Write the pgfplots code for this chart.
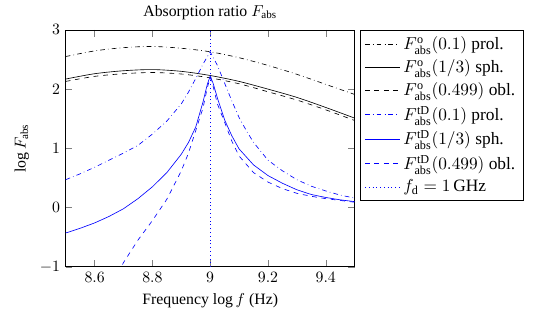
\documentclass[border=0pt]{standalone}
\usepackage{fontspec}
\setmainfont{Liberation Serif}
\usepackage{pgfplots}
\pgfplotsset{compat=1.18}
\pgfplotsset{
  blueimg/.style={legend image code/.code={%
    \draw[black, line width=0.01pt, opacity=0.01] (0cm,0cm) -- (0.01cm,0cm);
    \draw[blue, ##1] (0cm,0cm) -- (0.6cm,0cm);}},
}
\begin{document}
\begin{tikzpicture}
\begin{axis}[
  scale only axis,
  width=183pt, height=150pt,
  xmin=8.5, xmax=9.5, ymin=-1, ymax=3,
  xtick={8.6,8.8,9,9.2,9.4},
  ytick={-1,0,1,2,3},
  title={Absorption ratio $F_{\mathrm{abs}}$},
  title style={yshift=-3pt},
  xlabel={Frequency $\log f$ (Hz)},
  ylabel={$\log F_{\mathrm{abs}}$},
  legend style={at={(1.017,1)}, anchor=north west, legend cell align=left, row sep=1pt,
    font=\fontsize{11}{13}\selectfont},
  legend image post style={xscale=1.3},
  clip=true,
]
\addlegendimage{black, dashdotted}
\addlegendimage{black}
\addlegendimage{black, dashed}
\addlegendimage{blueimg, dashdotted}
\addlegendimage{blueimg, solid}
\addlegendimage{blueimg, dashed}
\addlegendimage{blueimg, dotted}
% black (o) curves
\addplot[black, dashdotted, smooth, forget plot] coordinates {
(8.5,2.55) (8.6,2.645) (8.7,2.70) (8.8,2.72) (8.9,2.69) (9.0,2.63) (9.1,2.53) (9.2,2.40) (9.3,2.25) (9.4,2.08) (9.5,1.91)};
\addplot[black, smooth, forget plot] coordinates {
(8.5,2.17) (8.6,2.26) (8.7,2.31) (8.8,2.33) (8.9,2.30) (9.0,2.23) (9.1,2.13) (9.2,2.00) (9.3,1.86) (9.4,1.69) (9.5,1.51)};
\addplot[black, dashed, smooth, forget plot] coordinates {
(8.5,2.13) (8.6,2.215) (8.7,2.26) (8.8,2.28) (8.9,2.255) (9.0,2.19) (9.1,2.09) (9.2,1.955) (9.3,1.815) (9.4,1.65) (9.5,1.47)};
% blue (tD) curves
\addplot[blue, dashdotted, forget plot] coordinates {
(8.5,0.47) (8.55,0.57) (8.6,0.68) (8.65,0.80) (8.7,0.92) (8.75,1.05) (8.8,1.24) (8.85,1.46) (8.9,1.75) (8.925,1.95) (8.95,2.18) (8.975,2.42) (9.0,2.63)
(9.025,2.40) (9.05,2.10) (9.075,1.80) (9.1,1.52) (9.125,1.30) (9.15,1.10) (9.2,0.80) (9.25,0.62) (9.3,0.47) (9.35,0.36) (9.4,0.28) (9.45,0.21) (9.5,0.16)};
\addplot[blue, forget plot] coordinates {
(8.5,-0.43) (8.55,-0.35) (8.6,-0.26) (8.65,-0.15) (8.7,-0.02) (8.75,0.15) (8.8,0.35) (8.85,0.59) (8.9,0.90) (8.925,1.10) (8.95,1.36) (8.975,1.78) (8.99,2.08) (9.0,2.22)
(9.01,2.10) (9.025,1.85) (9.05,1.48) (9.075,1.21) (9.1,0.99) (9.15,0.72) (9.2,0.54) (9.25,0.41) (9.3,0.30) (9.35,0.22) (9.4,0.17) (9.45,0.13) (9.5,0.10)};
\addplot[blue, dashed, forget plot] coordinates {
(8.6,-1.8) (8.65,-1.38) (8.7,-0.93) (8.75,-0.55) (8.8,-0.22) (8.85,0.14) (8.9,0.62) (8.925,0.92) (8.95,1.30) (8.975,1.68) (8.99,2.02) (9.0,2.20)
(9.01,2.05) (9.025,1.75) (9.05,1.44) (9.075,1.12) (9.1,0.87) (9.15,0.59) (9.2,0.43) (9.25,0.32) (9.3,0.24) (9.35,0.19) (9.4,0.15) (9.45,0.12) (9.5,0.09)};
\addplot[blue, dotted, forget plot] coordinates {(9,-1) (9,3)};
\legend{
  {$F^{\mathrm{o}}_{\mathrm{abs}}(0.1)$ prol.},
  {$F^{\mathrm{o}}_{\mathrm{abs}}(1/3)$ sph.},
  {$F^{\mathrm{o}}_{\mathrm{abs}}(0.499)$ obl.},
  {$F^{\mathrm{tD}}_{\mathrm{abs}}(0.1)$ prol.},
  {$F^{\mathrm{tD}}_{\mathrm{abs}}(1/3)$ sph.},
  {$F^{\mathrm{tD}}_{\mathrm{abs}}(0.499)$ obl.},
  {$f_{\mathrm{d}} = 1\,\mathrm{GHz}$}}
\end{axis}
\path (current bounding box.east) ++(6pt,0);
\path (current bounding box.west) ++(-6pt,0);
\end{tikzpicture}
\end{document}
